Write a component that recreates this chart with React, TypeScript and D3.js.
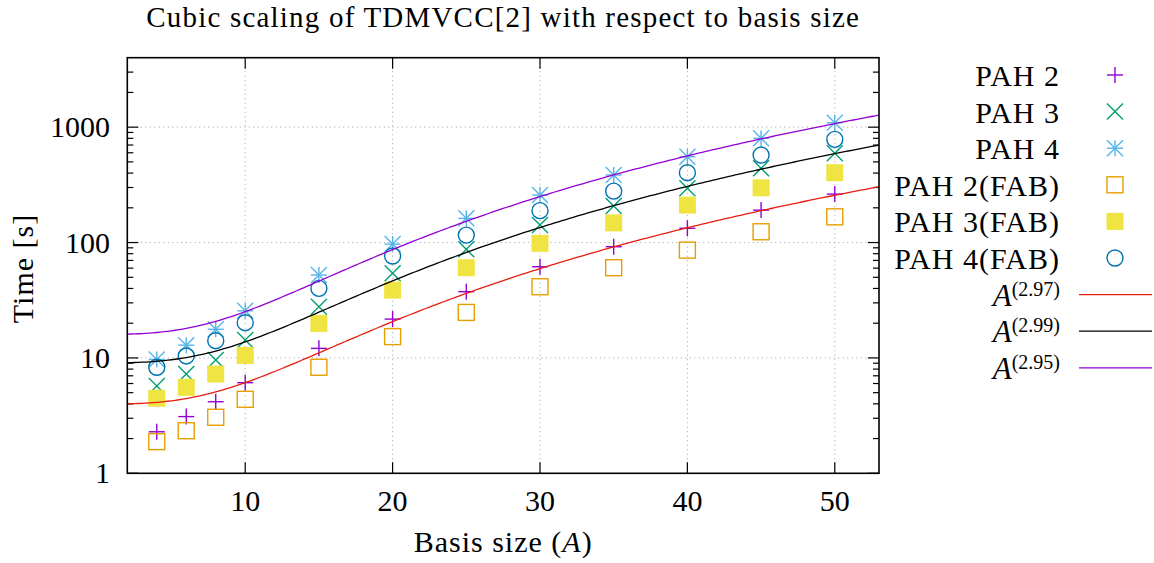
import React from "react";
import * as d3 from "d3";

const basisSizes = [4, 6, 8, 10, 15, 20, 25, 30, 35, 40, 45, 50];
const pah2 = [2.29, 3.1, 4.17, 6.1, 12.1, 21.7, 37.5, 61.7, 92, 133, 191, 263];
const pah3 = [5.71, 7.25, 9.6, 14.3, 27.8, 54.1, 87.3, 142, 207, 295, 440, 593];
const pah4 = [9.7, 12.9, 17.7, 25.6, 52.3, 97, 162, 258, 385, 554, 800, 1091];
const pah2Fab = [1.88, 2.34, 3.06, 4.38, 8.3, 15.3, 24.8, 41.4, 60.5, 86, 124, 167];
const pah3Fab = [4.47, 5.56, 7.25, 10.5, 19.9, 38.7, 60.5, 98.4, 148, 211, 298, 403];
const pah4Fab = [8.3, 10.4, 14.1, 20.2, 40.1, 76.4, 116, 189, 279, 403, 573, 784];

const seriesNames = ["PAH 2", "PAH 3", "PAH 4", "PAH 2(FAB)", "PAH 3(FAB)", "PAH 4(FAB)"];
const seriesValues = [pah2, pah3, pah4, pah2Fab, pah3Fab, pah4Fab];
const seriesColors = ["#9400d3", "#009e73", "#56b4e9", "#e69f00", "#f0e442", "#0072b2"];
const seriesMarkers = ["plus", "cross", "star", "square", "filledSquare", "circle"];

// fit curves f(A) = c * A^p + b
const fitExponents = [2.97, 2.99, 2.95];
const fitCoeffs = [0.002275, 0.004826, 0.01029];
const fitOffsets = [3.98, 9.05, 16.0];
const fitColors = ["#e51e10", "#000000", "#9400d3"];
const fitLabels = ["2.97", "2.99", "2.95"];

const xTicks = [10, 20, 30, 40, 50];
const yTicks = [1, 10, 100, 1000];

const FONT = "'Liberation Serif', 'Times New Roman', serif";

function Marker({ type, x, y, color }: { type: string; x: number; y: number; color: string }) {
  const s = 8;
  const sw = 1.4;
  if (type === "plus")
    return (
      <g stroke={color} strokeWidth={sw}>
        <line x1={x - s} y1={y} x2={x + s} y2={y} />
        <line x1={x} y1={y - s} x2={x} y2={y + s} />
      </g>
    );
  if (type === "cross")
    return (
      <g stroke={color} strokeWidth={sw}>
        <line x1={x - s} y1={y - s} x2={x + s} y2={y + s} />
        <line x1={x - s} y1={y + s} x2={x + s} y2={y - s} />
      </g>
    );
  if (type === "star")
    return (
      <g stroke={color} strokeWidth={sw}>
        <line x1={x - s} y1={y} x2={x + s} y2={y} />
        <line x1={x} y1={y - s} x2={x} y2={y + s} />
        <line x1={x - s} y1={y - s} x2={x + s} y2={y + s} />
        <line x1={x - s} y1={y + s} x2={x + s} y2={y - s} />
      </g>
    );
  if (type === "square")
    return <rect x={x - s} y={y - s} width={2 * s} height={2 * s} fill="none" stroke={color} strokeWidth={sw} />;
  if (type === "filledSquare")
    return <rect x={x - s - 0.5} y={y - s - 0.5} width={2 * s + 1} height={2 * s + 1} fill={color} stroke="none" />;
  return <circle cx={x} cy={y} r={s} fill="none" stroke={color} strokeWidth={sw} />;
}

export default function App() {
  const W = 1154;
  const H = 563;
  const left = 127.3, right = 879, top = 57.7, bottom = 473.3;
  const x = d3.scaleLinear().domain([2, 53]).range([left, right]);
  const y = d3.scaleLog().domain([1, 4000]).range([bottom, top]);

  const minorY: number[] = [];
  [1, 10, 100, 1000].forEach((dec) => {
    for (let k = 2; k <= 9; k++) {
      const v = k * dec;
      if (v < 4000) minorY.push(v);
    }
  });

  const samples = d3.range(2, 53.001, 0.25);
  const fitPaths = fitExponents.map((p, k) => {
    const gen = d3
      .line<number>()
      .x((a) => x(a))
      .y((a) => y(fitCoeffs[k] * Math.pow(a, p) + fitOffsets[k]));
    return gen(samples) as string;
  });

  const legendX = 1060;
  const legendSym = 1115;
  const legendY0 = 75;
  const legendStep = 36.6;
  const textStyle = { fontFamily: FONT, fontSize: 30, letterSpacing: 1 } as React.CSSProperties;

  return (
    <svg width={W} height={H} style={{ position: "absolute", left: 0, top: 0, background: "#fff" }}>
      <defs>
        <clipPath id="plotclip">
          <rect x={left} y={top} width={right - left} height={bottom - top} />
        </clipPath>
      </defs>
      <rect x={0} y={0} width={W} height={H} fill="#fff" />

      {/* grid */}
      <g stroke="#a0a0a0" strokeWidth={1} strokeDasharray="1,3.5">
        {xTicks.map((t) => (
          <line key={"gx" + t} x1={x(t)} x2={x(t)} y1={top} y2={bottom} />
        ))}
        {yTicks.filter((t) => t > 1).map((t) => (
          <line key={"gy" + t} x1={left} x2={right} y1={y(t)} y2={y(t)} />
        ))}
      </g>

      {/* ticks */}
      <g stroke="#000" strokeWidth={1.2}>
        {xTicks.map((t) => (
          <g key={"tx" + t}>
            <line x1={x(t)} x2={x(t)} y1={bottom} y2={bottom - 11} />
            <line x1={x(t)} x2={x(t)} y1={top} y2={top + 11} />
          </g>
        ))}
        {yTicks.map((t) => (
          <g key={"ty" + t}>
            <line x1={left} x2={left + 11} y1={y(t)} y2={y(t)} />
            <line x1={right} x2={right - 11} y1={y(t)} y2={y(t)} />
          </g>
        ))}
        {minorY.map((t) => (
          <g key={"my" + t}>
            <line x1={left} x2={left + 6} y1={y(t)} y2={y(t)} />
            <line x1={right} x2={right - 6} y1={y(t)} y2={y(t)} />
          </g>
        ))}
      </g>

      {/* points */}
      {seriesValues.map((vals, si) => (
        <g key={"s" + si}>
          {vals.map((v, i) => (
            <Marker key={i} type={seriesMarkers[si]} x={x(basisSizes[i])} y={y(v)} color={seriesColors[si]} />
          ))}
        </g>
      ))}

      {/* fits */}
      <g clipPath="url(#plotclip)" fill="none" strokeWidth={1.3}>
        {fitPaths.map((d, k) => (
          <path key={"f" + k} d={d} stroke={fitColors[k]} />
        ))}
      </g>

      {/* frame */}
      <rect x={left} y={top} width={right - left} height={bottom - top} fill="none" stroke="#000" strokeWidth={1.6} />

      {/* tick labels */}
      <g style={{ fontFamily: FONT, fontSize: 30 }} fill="#000">
        {xTicks.map((t) => (
          <text key={"lx" + t} x={x(t)} y={510.5} textAnchor="middle">
            {t}
          </text>
        ))}
        {yTicks.map((t) => (
          <text key={"ly" + t} x={110} y={y(t) + 10} textAnchor="end">
            {t}
          </text>
        ))}
      </g>

      {/* axis titles */}
      <text x={(left + right) / 2} y={27} textAnchor="middle" style={{ ...textStyle, fontSize: 29, letterSpacing: 1.2 }}>
        Cubic scaling of TDMVCC[2] with respect to basis size
      </text>
      <text x={(left + right) / 2} y={551.5} textAnchor="middle" style={textStyle}>
        Basis size (<tspan fontStyle="italic">A</tspan>)
      </text>
      <text
        transform={`translate(33, ${(top + bottom) / 2 + 3}) rotate(-90)`}
        textAnchor="middle"
        style={textStyle}
      >
        Time [s]
      </text>

      {/* legend */}
      {seriesNames.map((name, i) => {
        const cy = legendY0 + i * legendStep;
        return (
          <g key={"lg" + i}>
            <text x={legendX} y={cy + 11} textAnchor="end" style={textStyle}>
              {name}
            </text>
            <Marker type={seriesMarkers[i]} x={legendSym} y={cy} color={seriesColors[i]} />
          </g>
        );
      })}
      {fitLabels.map((lab, k) => {
        const cy = legendY0 + (k + 6) * legendStep;
        return (
          <g key={"lf" + k}>
            <text x={legendX} y={cy + 11} textAnchor="end" style={{ fontFamily: FONT, fontSize: 31 }}>
              <tspan fontStyle="italic">A</tspan>
              <tspan dy={-10} fontSize={20}>
                ({lab})
              </tspan>
            </text>
            <line x1={1079} x2={1152} y1={cy} y2={cy} stroke={fitColors[k]} strokeWidth={1.3} />
          </g>
        );
      })}
    </svg>
  );
}
